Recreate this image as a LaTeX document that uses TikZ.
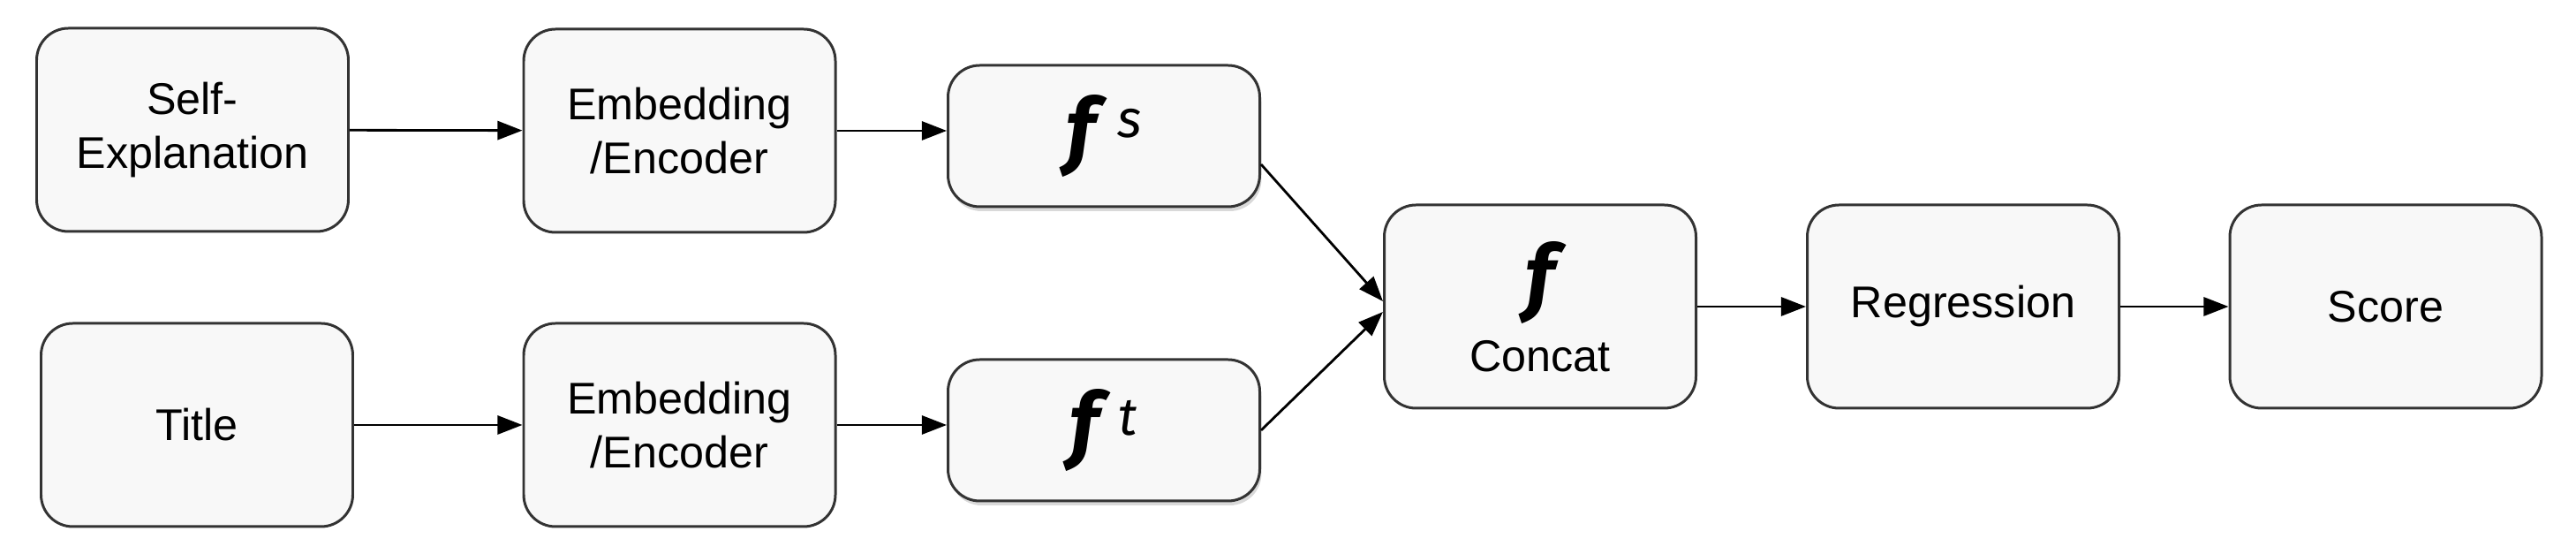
\documentclass[tikz,border=0pt]{standalone}
\usepackage{fontspec}
\setmainfont{Liberation Sans}
\newfontfamily\featfont{Fira Sans}
\usetikzlibrary{arrows.meta,positioning,shadows}
\definecolor{boxfill}{HTML}{F8F8F8}
\definecolor{boxline}{HTML}{333333}
\newcommand{\featf}{{\featfont\bfseries\itshape\fontsize{27}{27}\selectfont f}}
\newcommand{\featsup}[1]{{\featfont\itshape\fontsize{17}{17}\selectfont #1}}

\begin{document}
\begin{tikzpicture}[
  font=\fontsize{14.3}{17.4}\selectfont,
  blk/.style={draw=boxline,fill=boxfill,line width=0.85pt,rounded corners=0.36cm,align=center,minimum width=3.53cm,minimum height=2.3cm,inner sep=2pt},
  feat/.style={blk,minimum height=1.6cm,drop shadow={opacity=0.3,shadow xshift=0.02cm,shadow yshift=-0.05cm}},
  arr/.style={-{Triangle[length=8pt,width=6pt]},line width=0.8pt,black},
]
\useasboundingbox (0,0) rectangle (29.17,6.27);
% inputs
\node[blk] (selfexp) at (2.18,4.80) {Self-\\Explanation};
\node[blk] (title) at (2.23,1.46) {Title};
% encoders
\node[blk] (enc1) at (7.695,4.79) {Embedding\\/Encoder};
\node[blk] (enc2) at (7.695,1.46) {Embedding\\/Encoder};
% features
\node[feat] (fs) at (12.50,4.73) {\featf\hspace{0.25cm}\raisebox{0.24cm}{\featsup{s}}};
\node[feat] (ft) at (12.50,1.40) {\featf\hspace{0.22cm}\raisebox{0.2cm}{\featsup{t}}};
% head
\node[blk] (concat) at (17.44,2.80) {\featf\\[4pt]Concat};
\node[blk] (regr) at (22.23,2.80) {Regression};
\node[blk] (score) at (27.015,2.80) {Score};
% arrows
\draw[arr] (selfexp)--(enc1); \draw[arr] (title)--(enc2);
\draw[arr] (enc1)--(enc1 -| fs.west); \draw[arr] (enc2)--(enc2 -| ft.west);
\draw[arr] ([yshift=-0.32cm]fs.east)--([yshift=0.06cm]concat.west);
\draw[arr] (ft.east)--([yshift=-0.06cm]concat.west);
\draw[arr] (concat)--(regr); \draw[arr] (regr)--(score);
\end{tikzpicture}
\end{document}
